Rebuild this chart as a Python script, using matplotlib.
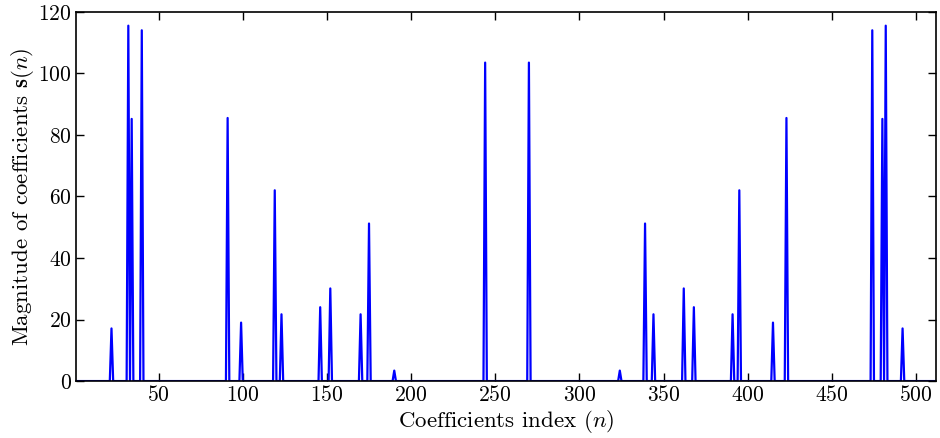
import numpy as np
import matplotlib
matplotlib.use("Agg")
import matplotlib.pyplot as plt

# Data
n_total = 512
peak_index = [22, 32, 34, 40, 91, 99, 119, 123, 146, 152, 170, 175, 190, 244,
              270, 324, 339, 344, 362, 368, 391, 395, 415, 423, 474, 480, 482, 492]
peak_value = [17.1, 115.5, 85.2, 114.0, 85.5, 19.0, 62.0, 21.7, 24.0, 30.1, 21.7, 51.2, 3.4, 103.5,
              103.5, 3.4, 51.2, 21.7, 30.1, 24.0, 21.7, 62.0, 19.0, 85.5, 114.0, 85.2, 115.5, 17.1]
x_ticks = [50, 100, 150, 200, 250, 300, 350, 400, 450, 500]
y_ticks = [0, 20, 40, 60, 80, 100, 120]
xlabel = r"Coefficients index $(n)$"
ylabel = r"Magnitude of coefficients $\mathbf{s}(n)$"

plt.rcParams["font.family"] = ["cmr10", "DejaVu Serif"]
plt.rcParams["mathtext.fontset"] = "cm"
plt.rcParams["axes.formatter.use_mathtext"] = True

n = np.arange(1, n_total + 1)
s = np.zeros(n_total)
for i, v in zip(peak_index, peak_value):
    s[i - 1] = v

fig = plt.figure(figsize=(9.4, 4.38), dpi=100)
ax = fig.add_axes([0.081, 0.130, 0.915, 0.843])
ax.plot(n, s, color="#0000ff", linewidth=1.6)
ax.set_xlim(1, n_total)
ax.set_ylim(0, 120)
ax.set_xticks(x_ticks)
ax.tick_params(direction="in", top=True, right=True, length=6, width=1.0,
               labelsize=15.5, pad=3)
ax.set_yticks(y_ticks)
for sp in ax.spines.values():
    sp.set_linewidth(1.2)
ax.set_xlabel(xlabel, fontsize=16.5, labelpad=2)
ax.set_ylabel(ylabel, fontsize=16.5, labelpad=2)
fig.savefig("out.png", dpi=100)
